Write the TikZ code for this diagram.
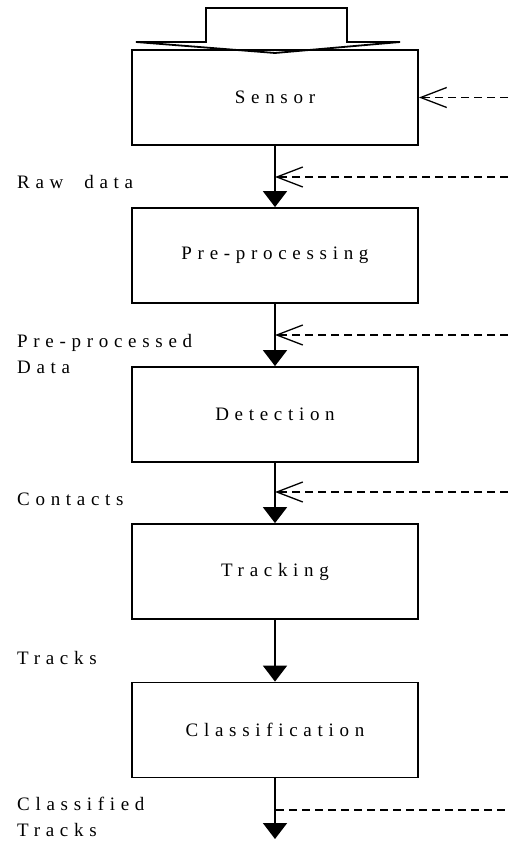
\documentclass[tikz,border=0pt]{standalone}
\usepackage{fontspec}
\setmainfont{Liberation Serif}
\newfontfamily\spaced[LetterSpace=30,WordSpace=2]{Liberation Serif}
\usetikzlibrary{arrows.meta}
\begin{document}
\begin{tikzpicture}[x=1pt,y=-1pt,
 stagebox/.style={draw, line width=1.8pt, minimum width=286pt, minimum height=95pt, inner sep=0pt, font=\fontsize{19}{26}\selectfont\spaced},
 lbl/.style={align=left, font=\fontsize{19}{26}\selectfont\spaced, inner sep=0pt},
 flow/.style={line width=1.8pt, -{Triangle[width=24pt,length=16pt]}},
 feed/.style={line width=1.2pt, dash pattern=on 8pt off 5pt, -{Straight Barb[length=26pt,width=20pt,line width=1.3pt]}},
 feedline/.style={line width=1.2pt, dash pattern=on 8pt off 5pt}
]
\useasboundingbox (0,0) rectangle (508,850);

% input arrow shape
\draw[line width=1.8pt, line join=miter] (206,8) -- (347,8) -- (347,42) -- (400,42) -- (275,53) -- (136,42) -- (206,42) -- cycle;

% stages
\node[stagebox] (sensor) at (275,97.5) {Sensor};
\node[stagebox] (pre) at (275,255.5) {Pre-processing};
\node[stagebox] (det) at (275,414.5) {Detection};
\node[stagebox] (trk) at (275,571.5) {Tracking};
\node[stagebox] (cls) at (275,730) {Classification};
\coordinate (out) at (275,839);

% flow
\draw[flow] (sensor.south) -- (pre.north);
\draw[flow] (pre.south) -- (det.north);
\draw[flow] (det.south) -- (trk.north);
\draw[flow] (trk.south) -- (cls.north);
\draw[flow] (cls.south) -- (out);

% labels
\node[lbl, anchor=base west] (l1) at (17,189) {Raw data};
\node[lbl, anchor=north west] (l2) at (17,334) {Pre-processed\\Data};
\node[lbl, anchor=base west] (l3) at (17,505) {Contacts};
\node[lbl, anchor=base west] (l4) at (17,664) {Tracks};
\node[lbl, anchor=north west] (l5) at (17,797) {Classified\\Tracks};

% feedback dashed arrows
\coordinate (s0) at (508,97.5);
\coordinate (f1) at (275,177);
\coordinate (f1e) at (508,177);
\coordinate (f2) at (275,335);
\coordinate (f2e) at (508,335);
\coordinate (f3) at (275,492);
\coordinate (f3e) at (508,492);
\coordinate (f4) at (276,810);
\coordinate (f4e) at (508,810);
\draw[feed] (s0) -- (sensor.east);
\draw[feed] (f1e) -- (f1);
\draw[feed] (f2e) -- (f2);
\draw[feed] (f3e) -- (f3);
\draw[feedline] (f4) -- (f4e);
\end{tikzpicture}
\end{document}
